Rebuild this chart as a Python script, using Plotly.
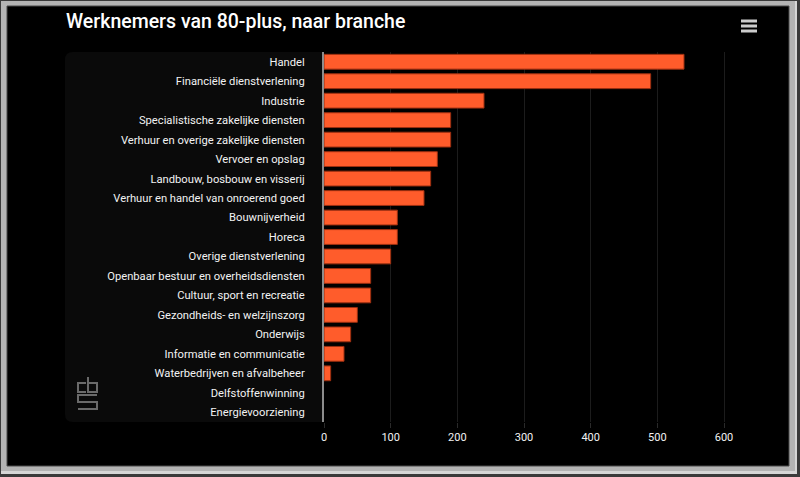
import plotly.graph_objects as go

categories = [
    "Handel", "Financiële dienstverlening", "Industrie",
    "Specialistische zakelijke diensten", "Verhuur en overige zakelijke diensten",
    "Vervoer en opslag", "Landbouw, bosbouw en visserij",
    "Verhuur en handel van onroerend goed", "Bouwnijverheid", "Horeca",
    "Overige dienstverlening", "Openbaar bestuur en overheidsdiensten",
    "Cultuur, sport en recreatie", "Gezondheids- en welzijnszorg", "Onderwijs",
    "Informatie en communicatie", "Waterbedrijven en afvalbeheer",
    "Delfstoffenwinning", "Energievoorziening",
]
values = [540, 490, 240, 190, 190, 170, 160, 150, 110, 110, 100, 70, 70, 50, 40, 30, 10, 0, 0]
x_ticks = [0, 100, 200, 300, 400, 500, 600]
title_text = "Werknemers van 80-plus, naar branche"

W, H = 800, 477
L, R, T, B = 324, 42, 52, 55
PW, PH = W - L - R, H - T - B


def px(x):
    return (x - L) / PW


def py(y):
    return (H - B - y) / PH


def rect(x0, y0, x1, y1, fill, line=None):
    return dict(type="rect", xref="paper", yref="paper", x0=px(x0), x1=px(x1), y0=py(y0), y1=py(y1),
                fillcolor=fill, line=line or dict(width=0), layer="below")


fig = go.Figure(go.Bar(
    x=values, y=categories, orientation="h",
    marker=dict(color="#ff5c2b",
                line=dict(color="#9c2f10", width=[1 if v > 0 else 0 for v in values])),
    hoverinfo="x+y",
))

shapes = [
    rect(0, 0, 800, 477, "#3a3a3a"),
    rect(1, 1, 797, 474, "#b4b4b4"),
    rect(795, 1, 797, 474, "#d6d6d6"),
    rect(1, 471, 797, 474, "#d6d6d6"),
    rect(7, 6, 789, 466, "#000000", dict(color="#4a4a4a", width=1)),
]
# label panel (rounded)
x0, x1, y0, y1, r = 65, 324, 52, 422, 8
path = (f"M {px(x0 + r)},{py(y0)} L {px(x1)},{py(y0)} L {px(x1)},{py(y1)} L {px(x0 + r)},{py(y1)} "
        f"Q {px(x0)},{py(y1)} {px(x0)},{py(y1 - r)} L {px(x0)},{py(y0 + r)} "
        f"Q {px(x0)},{py(y0)} {px(x0 + r)},{py(y0)} Z")
shapes.append(dict(type="path", xref="paper", yref="paper", path=path,
                   fillcolor="#0a0a0a", line=dict(width=0), layer="below"))
# menu icon
for yy in (21, 26, 31):
    shapes.append(dict(type="line", xref="paper", yref="paper", x0=px(741), x1=px(757), y0=py(yy), y1=py(yy),
                       line=dict(color="#cccccc", width=3)))
# cbs logo
logo_paths = [
    [(86, 383), (78, 383), (78, 392), (86, 392)],
    [(88, 377), (88, 392), (97, 392), (97, 383), (88, 383)],
    [(97, 395), (78, 395), (78, 402), (97, 402), (97, 409), (78, 409)],
]
for pts in logo_paths:
    p = "M " + " L ".join(f"{px(a)},{py(b)}" for a, b in pts)
    shapes.append(dict(type="path", xref="paper", yref="paper", path=p,
                       line=dict(color="#6a6a6a", width=2)))

fig.update_layout(
    width=W, height=H,
    margin=dict(l=L, r=R, t=T, b=B, pad=0),
    paper_bgcolor="#000000", plot_bgcolor="rgba(0,0,0,0)",
    bargap=0.24,
    showlegend=False,
    font=dict(family="Roboto, sans-serif", size=11, color="#f2f2f2"),
    title=dict(text=title_text, x=66 / W, xanchor="left", xref="container",
               y=1 - 21 / H, yref="container", yanchor="middle",
               font=dict(family="Roboto, sans-serif", size=19.5, color="#ffffff", weight=500)),
    xaxis=dict(range=[0, 651], tickvals=x_ticks, showgrid=True, gridcolor="#1c1c1c", gridwidth=1,
               zeroline=False, showline=False, ticks="outside", ticklen=5, tickcolor="#2a2a2a",
               tickfont=dict(size=11, color="#f2f2f2"), fixedrange=True),
    yaxis=dict(autorange="reversed", showline=True, linecolor="#8c8c8c", linewidth=2,
               showgrid=False, ticks="", ticklabelstandoff=15,
               tickfont=dict(size=11.2, color="#f2f2f2"), fixedrange=True),
    shapes=shapes,
)

fig.write_html("out.html", config={"displayModeBar": False})
